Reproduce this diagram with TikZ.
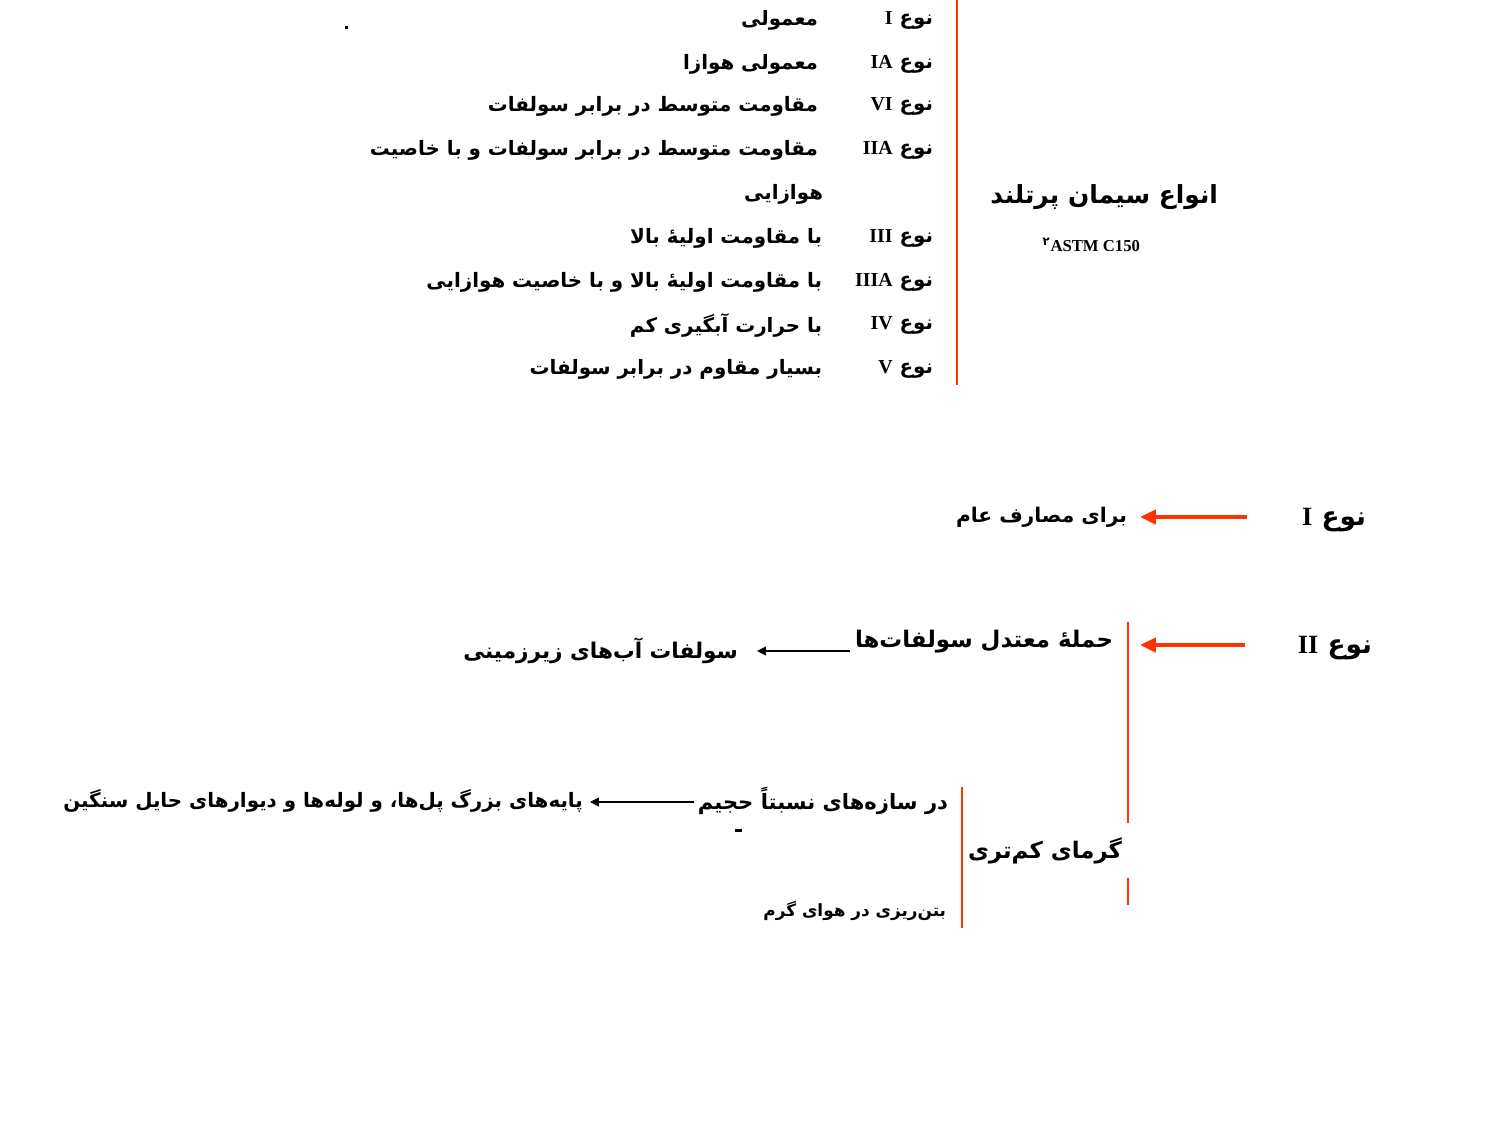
\documentclass[tikz,border=0pt]{standalone}
\usepackage{fontspec}
\usetikzlibrary{arrows.meta}
\TeXXeTstate=1
\newfontfamily\arabicfont[Script=Arabic]{DejaVu Sans}
\newfontfamily\romfont{Liberation Serif}
\definecolor{redline}{RGB}{255,51,0}
\newcommand\fatext[1]{\arabicfont\beginR #1\endR}
\newcommand\rom[1]{\beginL{\romfont\bfseries #1}\endL}
\begin{document}
\begin{tikzpicture}[x=0.02cm,y=-0.02cm,
  every node/.style={inner sep=0pt, outer sep=0pt},
  listtxt/.style={anchor=east, font=\bfseries\fontsize{11.3}{13}\selectfont},
  titletxt/.style={anchor=east, font=\bfseries\fontsize{14.2}{17}\selectfont},
  bigtxt/.style={anchor=east, font=\bfseries\fontsize{15}{18}\selectfont},
  midtxt/.style={anchor=east, font=\bfseries\fontsize{11.5}{14}\selectfont},
  redrule/.style={draw=redline, line width=1.1pt},
  redarrow/.style={draw=redline, line width=2.2pt, -{Triangle[length=9pt,width=8pt]}},
  blackarrow/.style={draw=black, line width=0.6pt, -{Triangle[length=5pt,width=5pt]}}]
\useasboundingbox (0,0) rectangle (1500,1125);
% top list
\draw[redrule] (957,0) coordinate (rt) -- (957,385) coordinate (rb);
\node[listtxt] (l1) at (933,20) {\fatext{نوع \rom{I}}};
\node[listtxt] (l2) at (933,64) {\fatext{نوع \rom{IA}}};
\node[listtxt] (l3) at (933,106) {\fatext{نوع \rom{VI}}};
\node[listtxt] (l4) at (933,150) {\fatext{نوع \rom{IIA}}};
\node[listtxt] (l6) at (933,238) {\fatext{نوع \rom{III}}};
\node[listtxt] (l7) at (933,282) {\fatext{نوع \rom{IIIA}}};
\node[listtxt] (l8) at (933,325) {\fatext{نوع \rom{IV}}};
\node[listtxt] (l9) at (933,369) {\fatext{نوع \rom{V}}};
\node[listtxt] (d1) at (818,20) {\fatext{معمولی}};
\node[listtxt] (d2) at (818,64) {\fatext{معمولی هوازا}};
\node[listtxt] (d3) at (818,106) {\fatext{مقاومت متوسط در برابر سولفات}};
\node[listtxt] (d4) at (818,150) {\fatext{مقاومت متوسط در برابر سولفات و با خاصیت}};
\node[listtxt] (d5) at (823,194) {\fatext{هوازایی}};
\node[listtxt] (d6) at (822,238) {\fatext{با مقاومت اولیهٔ بالا}};
\node[listtxt] (d7) at (822,282) {\fatext{با مقاومت اولیهٔ بالا و با خاصیت هوازایی}};
\node[listtxt] (d8) at (822,325) {\fatext{با حرارت آبگیری کم}};
\node[listtxt] (d9) at (822,369) {\fatext{بسیار مقاوم در برابر سولفات}};
\fill (344.5,26.5) rectangle (347.5,29.5);
% title
\node[titletxt] (title) at (1218,197) {\fatext{انواع سیمان پرتلند}};
\node[anchor=east, font=\romfont\bfseries\fontsize{9.5}{11}\selectfont] (astm) at (1140,245) {\textsuperscript{\arabicfont ۲}ASTM C150};
% type I
\node[bigtxt] (t1) at (1366,520) {\fatext{نوع \rom{I}}};
\node[midtxt] (u1) at (1127,517) {\fatext{برای مصارف عام}};
\draw[redarrow] ([xshift=-55*0.02cm]t1.west |- u1.east) -- ([xshift=13*0.02cm]u1.east);
% type II
\node[bigtxt] (t2) at (1372,648) {\fatext{نوع \rom{II}}};
\node[anchor=east, font=\bfseries\fontsize{13}{15}\selectfont] (u2) at (1113,642) {\fatext{حملهٔ معتدل سولفات‌ها}};
\draw[redarrow] (1245,645) coordinate (a2s) -- (1140,645) coordinate (a2e);
\node[anchor=east, font=\bfseries\fontsize{12.3}{15}\selectfont] (w2) at (738,651) {\fatext{سولفات آب‌های زیرزمینی}};
\draw[blackarrow] ([xshift=-5*0.02cm]u2.west |- w2.east) -- ([xshift=19*0.02cm]w2.east);
\draw[redrule] (1128,622) coordinate (v1a) -- (1128,823) coordinate (v1b);
\draw[redrule] (1128,878) coordinate (v1c) -- (1128,905) coordinate (v1d);
\node[anchor=east, font=\bfseries\fontsize{13}{16}\selectfont] (g) at (1122,851) {\fatext{گرمای کم‌تری}};
\draw[redrule] (962,787) coordinate (v2a) -- (962,928) coordinate (v2b);
\node[anchor=east, font=\bfseries\fontsize{12}{14}\selectfont] (s1) at (948,801) {\fatext{در سازه‌های نسبتاً حجیم}};
\node[anchor=east, font=\bfseries\fontsize{11.3}{14}\selectfont] (s2) at (583,801) {\fatext{پایه‌های بزرگ پل‌ها، و لوله‌ها و دیوارهای حایل سنگین}};
\draw[blackarrow] ([xshift=-4*0.02cm]s1.west |- 0,802) -- ([xshift=7*0.02cm]s2.east |- 0,802);
\fill (734.5,829) rectangle (741.5,832);
\node[anchor=east, font=\bfseries\fontsize{9.6}{12}\selectfont] (s3) at (946,911) {\fatext{بتن‌ریزی در هوای گرم}};
\end{tikzpicture}
\end{document}
